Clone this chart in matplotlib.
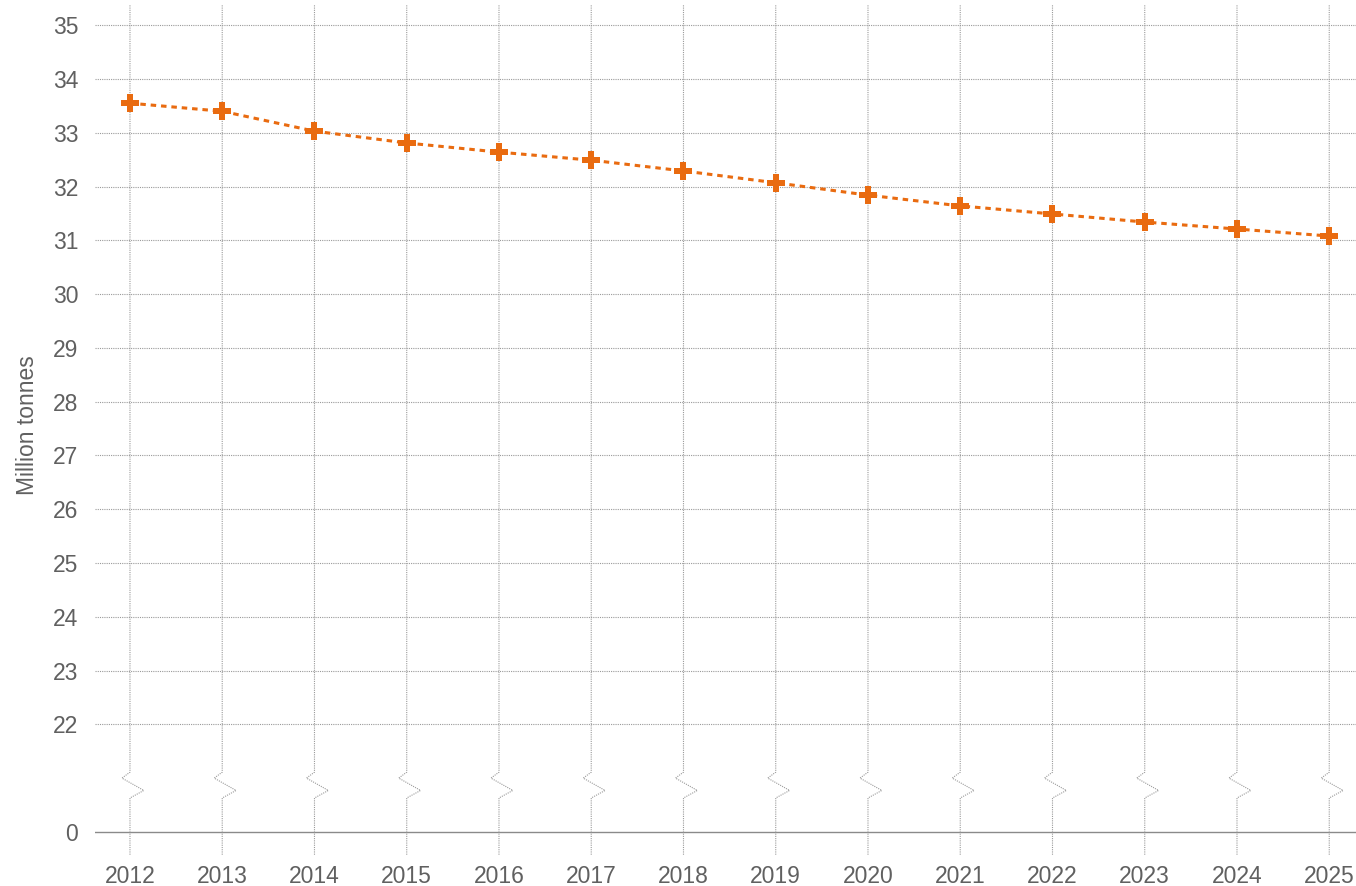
import matplotlib.pyplot as plt
import numpy as np

plt.rcParams['font.family'] = ['Liberation Sans', 'DejaVu Sans']

# data
years = [2012, 2013, 2014, 2015, 2016, 2017, 2018, 2019, 2020, 2021, 2022, 2023, 2024, 2025]
tonnes = [33.55, 33.40, 33.03, 32.81, 32.64, 32.49, 32.29, 32.07, 31.84, 31.64, 31.49, 31.34, 31.21, 31.08]
ytick_vals = [0, 22, 23, 24, 25, 26, 27, 28, 29, 30, 31, 32, 33, 34, 35]

# the axis is broken: 0 is drawn two units below 22
BREAK_POS = 20.0
def ymap(v):
    return BREAK_POS if v == 0 else v

orange = '#e96b10'
grey_txt = '#606060'
grid_c = '#9a9a9a'

fig = plt.figure(figsize=(13.56, 8.86), dpi=100)
ax = fig.add_axes([0.070, 0.035, 0.930, 0.959])

ylo, yhi = 19.57, 35.37
ax.set_ylim(ylo, yhi)
ax.set_xlim(2011.62, 2025.29)

# horizontal dotted gridlines
for v in ytick_vals:
    if v == 0:
        ax.axhline(BREAK_POS, color='#8a8a8a', lw=1.0, zorder=1)
    else:
        ax.axhline(v, color=grid_c, lw=0.8, ls=(0, (1, 1)), zorder=1)

# vertical gridlines with a zigzag break mark
for x in years:
    xs = [x, x, x - 0.087, x + 0.15, x, x]
    ys = [yhi, 21.11, 21.0, 20.77, 20.63, ylo]
    ax.plot(xs, ys, color=grid_c, lw=0.8, ls=(0, (1, 1)), zorder=1, clip_on=False)

ax.plot(years, tonnes, color=orange, lw=2.2, ls=(0, (1.8, 1.6)), marker='P',
        markersize=12.5, markeredgewidth=0, zorder=3)

ax.set_yticks([ymap(v) for v in ytick_vals])
ax.set_yticklabels([str(v) for v in ytick_vals])
ax.set_xticks(years)
ax.set_xticklabels([str(y) for y in years])
ax.tick_params(axis='both', length=0, labelsize=16.5, colors=grey_txt)
ax.tick_params(axis='y', pad=12)
ax.tick_params(axis='x', pad=7)
for s in ax.spines.values():
    s.set_visible(False)

fig.text(0.020, 0.520, 'Million tonnes', rotation=90, va='center', ha='center',
         fontsize=16.5, color=grey_txt)

fig.savefig('out.png', dpi=100)
